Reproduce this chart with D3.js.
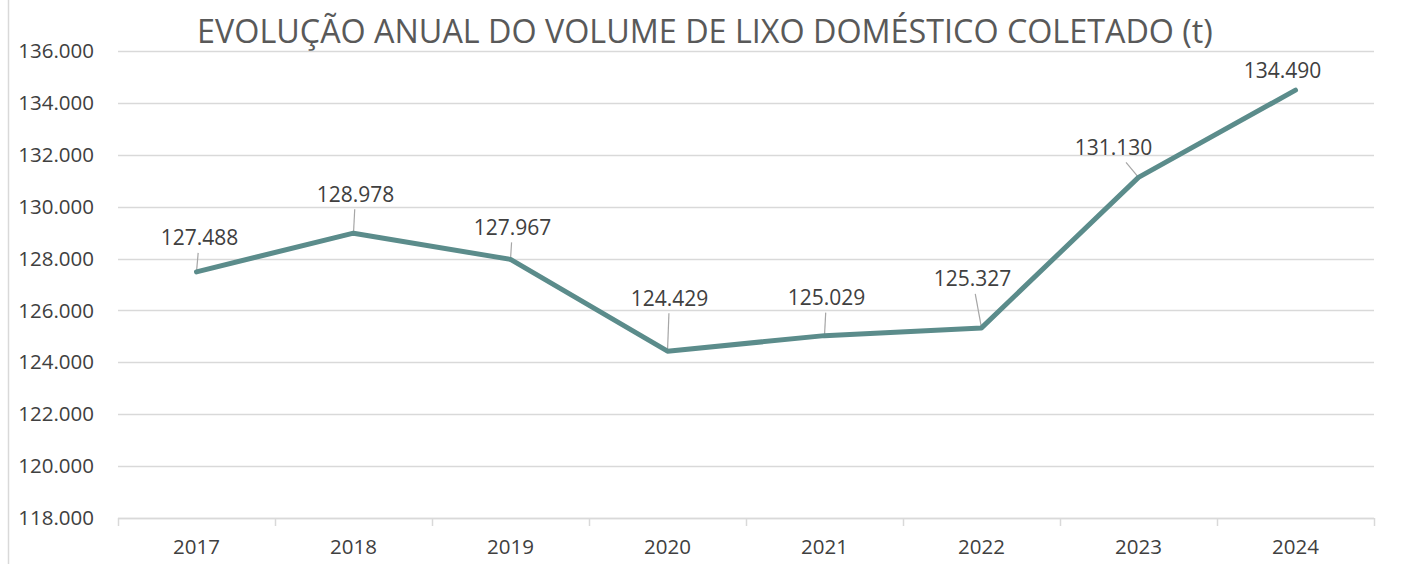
<!DOCTYPE html>
<html>
<head>
<meta charset="utf-8">
<script src="https://cdn.jsdelivr.net/npm/d3@7"></script>
<style>
  body { margin: 0; background: #fff; }
  text { font-family: "Open Sans", "Liberation Sans", sans-serif; }
</style>
</head>
<body>
<div id="wrapper"></div>
<script>
// data
const years = ["2017", "2018", "2019", "2020", "2021", "2022", "2023", "2024"]
const volumes = [127488, 128978, 127967, 124429, 125029, 125327, 131130, 134490]
const yTicks = [118000, 120000, 122000, 124000, 126000, 128000, 130000, 132000, 134000, 136000]
const title = "EVOLUÇÃO ANUAL DO VOLUME DE LIXO DOMÉSTICO COLETADO (t)"

// label placement (offset of label centre from point)
const labelOffsets = [[3, -34], [2, -39], [2, -32], [2, -53], [2, -38], [-9, -49], [-25, -30], [-13, -20]]

const fmt = d3.formatLocale({ decimal: ",", thousands: ".", grouping: [3], currency: ["", ""] }).format(",d")

const dimensions = {
  width: 1402,
  height: 564,
  margin: { top: 51, right: 28, bottom: 46, left: 118 },
}
dimensions.boundedWidth = dimensions.width - dimensions.margin.left - dimensions.margin.right
dimensions.boundedHeight = dimensions.height - dimensions.margin.top - dimensions.margin.bottom

const svg = d3.select("#wrapper").append("svg")
  .attr("width", dimensions.width)
  .attr("height", dimensions.height)

// chart frame left edge
svg.append("line")
  .attr("x1", 8.5).attr("x2", 8.5)
  .attr("y1", 0).attr("y2", dimensions.height)
  .attr("stroke", "#d9d9d9").attr("stroke-width", 1.5)

svg.append("text")
  .attr("x", 705)
  .attr("y", 43)
  .attr("text-anchor", "middle")
  .attr("fill", "#595959")
  .style("font-size", "32.3px")
  .text(title)

const bounds = svg.append("g")
  .attr("transform", `translate(${dimensions.margin.left},${dimensions.margin.top})`)

const xScale = d3.scaleBand()
  .domain(years)
  .range([0, dimensions.boundedWidth])

const yScale = d3.scaleLinear()
  .domain([118000, 136000])
  .range([dimensions.boundedHeight, 0])

const xCenter = d => xScale(d) + xScale.bandwidth() / 2

// gridlines
bounds.append("g")
  .selectAll("line")
  .data(yTicks)
  .join("line")
  .attr("x1", 0).attr("x2", dimensions.boundedWidth)
  .attr("y1", d => Math.round(yScale(d)) + 0.5)
  .attr("y2", d => Math.round(yScale(d)) + 0.5)
  .attr("stroke", "#d9d9d9").attr("stroke-width", 1.5)

// y axis labels
const yAxis = bounds.append("g")
  .call(d3.axisLeft(yScale).tickValues(yTicks).tickFormat(fmt).tickSize(0).tickPadding(24))
yAxis.select(".domain").remove()
yAxis.selectAll("text")
  .attr("fill", "#404040")
  .style("font-size", "20.5px")
  .style("font-family", "'Open Sans', sans-serif")

// x axis with ticks between categories
const xAxisG = bounds.append("g")
  .attr("transform", `translate(0,${dimensions.boundedHeight})`)
xAxisG.append("line")
  .attr("x1", 0).attr("x2", dimensions.boundedWidth)
  .attr("y1", 0.5).attr("y2", 0.5)
  .attr("stroke", "#d9d9d9").attr("stroke-width", 1.5)
const boundaries = years.map(d => xScale(d)).concat([dimensions.boundedWidth])
xAxisG.selectAll(".tick-mark")
  .data(boundaries)
  .join("line")
  .attr("class", "tick-mark")
  .attr("x1", d => Math.round(d) + 0.5).attr("x2", d => Math.round(d) + 0.5)
  .attr("y1", 0).attr("y2", 8)
  .attr("stroke", "#d9d9d9").attr("stroke-width", 1.5)
xAxisG.selectAll(".year")
  .data(years)
  .join("text")
  .attr("class", "year")
  .attr("x", xCenter)
  .attr("y", 36)
  .attr("text-anchor", "middle")
  .attr("fill", "#404040")
  .style("font-size", "20.5px")
  .text(d => d)

// line
const points = years.map((d, i) => ({ year: d, value: volumes[i], off: labelOffsets[i] }))
const lineGen = d3.line()
  .x(d => xCenter(d.year))
  .y(d => yScale(d.value))

// where a leader line meets the label box
const leaderT = d => {
  const dx = Math.abs(d.off[0]), dy = Math.abs(d.off[1])
  const hw = 40, hh = 15
  return dx > hw ? Math.max((dx - hw) / dx, (dy - hh) / dy) : (dy - hh) / dy
}

// leader lines
bounds.append("g")
  .selectAll("line")
  .data(points.filter(d => Math.hypot(d.off[0], d.off[1]) > 25))
  .join("line")
  .attr("x1", d => xCenter(d.year))
  .attr("y1", d => yScale(d.value))
  .attr("x2", d => xCenter(d.year) + d.off[0] * leaderT(d))
  .attr("y2", d => yScale(d.value) + d.off[1] * leaderT(d))
  .attr("stroke", "#a6a6a6")
  .attr("stroke-width", 1.2)

bounds.append("path")
  .datum(points)
  .attr("d", lineGen)
  .attr("fill", "none")
  .attr("stroke", "#5b8c8b")
  .attr("stroke-width", 5)
  .attr("stroke-linejoin", "round")
  .attr("stroke-linecap", "round")

// data labels
bounds.append("g")
  .selectAll("text")
  .data(points)
  .join("text")
  .attr("x", d => xCenter(d.year) + d.off[0])
  .attr("y", d => yScale(d.value) + d.off[1])
  .attr("dy", "0.35em")
  .attr("text-anchor", "middle")
  .attr("fill", "#404040")
  .style("font-size", "21px")
  .text(d => fmt(d.value))
</script>
</body>
</html>
